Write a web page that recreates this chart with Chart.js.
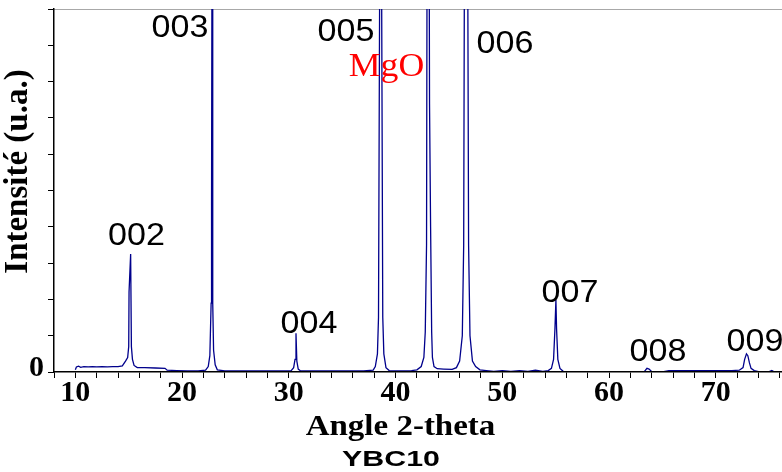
<!DOCTYPE html>
<html><head><meta charset="utf-8">
<script src="https://cdn.jsdelivr.net/npm/chart.js@4/dist/chart.umd.min.js"></script>
<style>html,body{margin:0;padding:0;background:#fff}#c{display:block}</style>
</head><body>
<canvas id="c" width="782" height="472"></canvas>
<script>
// ---- data ----
const angle = [
 10.0,10.1,10.3,10.5,10.8,11.2,11.6,12.0,12.5,13.0,13.5,14.0,14.4,14.7,
 14.9,15.0,15.03,15.18,15.25,15.35,15.5,15.8,16.5,17.5,18.4,18.6,19.5,20.5,21.5,22.2,
 22.45,22.6,22.72,22.76,22.82,22.87,22.95,23.1,23.3,24,26,28,30.2,
 30.45,30.58,30.67,30.75,30.88,31.1,33,35,37,37.9,
 38.1,38.3,38.4,38.56,38.64,38.8,38.9,39.1,39.4,40.5,41.5,
 42.0,42.4,42.65,42.78,42.9,42.97,43.12,43.18,43.28,43.38,43.45,43.6,43.9,44.5,45.3,
 45.7,46.0,46.25,46.38,46.48,46.72,46.84,46.97,47.2,47.5,47.9,
 48.5,49.2,50.0,50.8,51.6,52.4,53.1,53.8,54.3,
 54.6,54.8,54.93,55.02,55.08,55.2,55.4,55.7,56.5,58,60,62,63.3,
 63.55,63.75,64.0,65,65.6,67,69,71.5,72.2,
 72.55,72.7,72.87,73.0,73.15,73.3,73.6,74.0,75.0,75.25,75.5
];
const intensity = [
 0.06,0.14,0.16,0.13,0.15,0.14,0.15,0.14,0.15,0.14,0.15,0.15,0.17,0.3,
 0.4,0.7,2.2,3.25,0.7,0.35,0.18,0.12,0.12,0.11,0.1,0.05,0.04,0.03,0.03,0.05,
 0.15,0.45,1.9,4.6,15,1.9,0.6,0.2,0.06,0.03,0.03,0.03,0.03,
 0.12,0.35,1.07,0.3,0.08,0.03,0.03,0.03,0.03,0.05,
 0.15,0.5,1.5,15,15,1.5,0.5,0.12,0.04,0.03,0.04,
 0.06,0.15,0.4,1.1,3.5,15,15,7.4,4.0,1.1,0.4,0.15,0.09,0.08,0.07,
 0.12,0.3,1.0,3.5,15,15,3.5,1.0,0.3,0.15,0.06,
 0.04,0.02,0.04,0.02,0.04,0.02,0.05,0.02,0.04,
 0.1,0.35,1.2,1.98,1.2,0.35,0.1,0.02,0,0,0,0,0.01,
 0.1,0.08,0.01,0,0.04,0.04,0.04,0.04,0.05,
 0.12,0.35,0.5,0.45,0.25,0.1,0.04,0.01,0.01,0.04,0
];
const xTickLabels = ['10','20','30','40','50','60','70'];
const yTickLabels = ['0'];
const peakLabels = ['002','003','004','005','006','007','008','009'];
const peakLabelAngle = [15.73,19.80,31.89,35.36,50.25,56.34,64.59,73.67];
const peakLabelLevel = [3.50,9.24,1.07,9.13,8.78,1.94,0.31,0.59];
const phaseLabel = 'MgO';
const phaseLabelAngle = 39.15;
const phaseLabelLevel = 8.15;
const xTitle = 'Angle 2-theta';
const yTitle = 'Intensité (u.a.)';
const sampleName = 'YBC10';

const SERIF = '"Liberation Serif","Times New Roman",serif';
const SANS = '"Liberation Sans",Arial,sans-serif';

const points = angle.map((a, i) => ({x: a, y: intensity[i]}));

function stretchedText(ctx, txt, x, y, font, color, sx, rot) {
  ctx.save();
  ctx.translate(x, y);
  if (rot) { ctx.rotate(rot); ctx.scale(1, sx); } else { ctx.scale(sx, 1); }
  ctx.font = font;
  ctx.fillStyle = color;
  ctx.textAlign = 'center';
  ctx.textBaseline = 'alphabetic';
  ctx.fillText(txt, 0, 0);
  ctx.restore();
}

const framePlugin = {
  id: 'frame',
  beforeDatasetsDraw(chart) {
    const {ctx, chartArea} = chart;
    ctx.save();
    ctx.strokeStyle = '#a8a8a8';
    ctx.lineWidth = 1;
    ctx.beginPath();
    ctx.moveTo(chartArea.left, chartArea.top + 0.5);
    ctx.lineTo(chartArea.right, chartArea.top + 0.5);
    ctx.stroke();
    ctx.restore();
  },
  afterDraw(chart) {
    const {ctx, scales: {x, y}} = chart;
    peakLabels.forEach((t, i) => {
      stretchedText(ctx, t, x.getPixelForValue(peakLabelAngle[i]), y.getPixelForValue(peakLabelLevel[i]),
        '31px ' + SANS, '#000', 1.1);
    });
    stretchedText(ctx, phaseLabel, x.getPixelForValue(phaseLabelAngle), y.getPixelForValue(phaseLabelLevel),
      '34px ' + SERIF, '#ff0000', 1.05);
    stretchedText(ctx, xTitle, 400.5, 435, 'bold 30px ' + SERIF, '#000', 1.1);
    stretchedText(ctx, sampleName, 391, 466, 'bold 22px ' + SANS, '#000', 1.38);
    stretchedText(ctx, yTitle, 27, 171.5, 'bold 33px ' + SERIF, '#000', 1.05, -Math.PI / 2);
  }
};

new Chart(document.getElementById('c'), {
  type: 'line',
  data: {
    datasets: [{
      data: points,
      borderColor: '#00008c',
      borderWidth: 1.3,
      pointRadius: 0,
      tension: 0,
      fill: false
    }]
  },
  options: {
    responsive: false,
    animation: false,
    devicePixelRatio: 1,
    layout: {padding: {top: 9, left: 0, right: 0, bottom: 0}},
    plugins: {legend: {display: false}, tooltip: {enabled: false}, title: {display: false}},
    scales: {
      x: {
        type: 'linear', min: 8, max: 76.2,
        afterFit: s => { s.height = 100; },
        ticks: {
          stepSize: 2, includeBounds: false, autoSkip: false, maxTicksLimit: 100,
          maxRotation: 0, minRotation: 0, padding: 0, color: '#000',
          font: {family: SERIF, weight: 'bold', size: 30, lineHeight: 1},
          callback: v => (xTickLabels.includes(String(v)) ? String(v) : '')
        },
        grid: {drawOnChartArea: false, drawTicks: true, tickLength: 6, color: '#000', lineWidth: 1},
        border: {display: true, color: '#000', width: 1.5, z: 1}
      },
      y: {
        type: 'linear', min: 0, max: 10,
        afterFit: s => { s.width = 54; },
        ticks: {
          stepSize: 1, autoSkip: false, padding: 4, labelOffset: -4, color: '#000',
          font: {family: SERIF, weight: 'bold', size: 30, lineHeight: 0.2},
          callback: v => (yTickLabels.includes(String(v)) ? String(v) : '')
        },
        grid: {drawOnChartArea: false, drawTicks: true, tickLength: 6, color: '#000', lineWidth: 1},
        border: {display: true, color: '#000', width: 1.5, z: 1}
      }
    }
  },
  plugins: [framePlugin]
});
</script>
</body></html>
